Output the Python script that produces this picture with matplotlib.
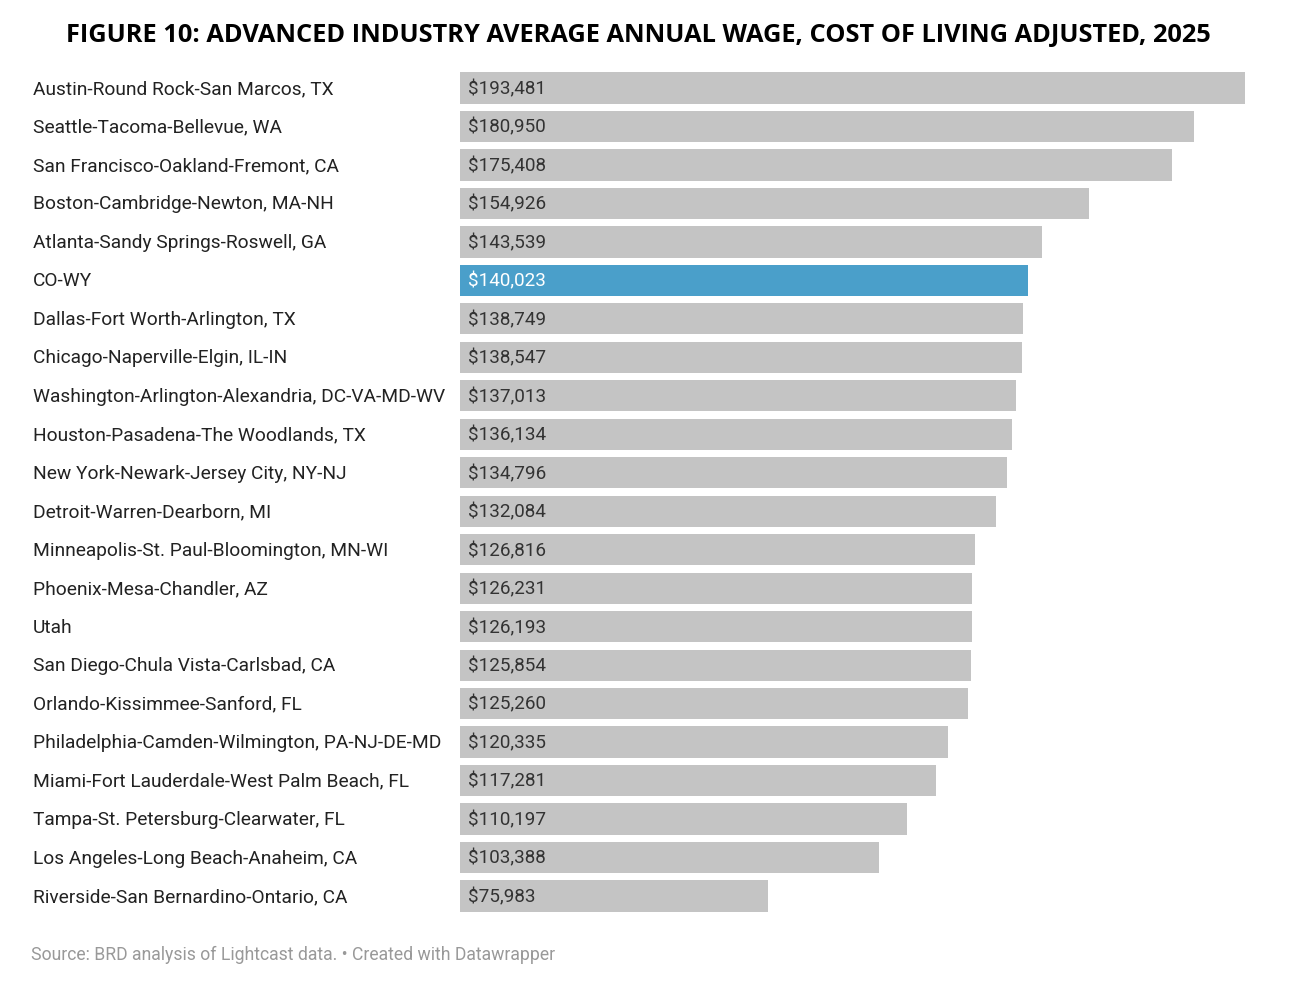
import matplotlib
matplotlib.use('Agg')
import matplotlib.pyplot as plt
import numpy as np

# data
regions = [
    'Austin-Round Rock-San Marcos, TX',
    'Seattle-Tacoma-Bellevue, WA',
    'San Francisco-Oakland-Fremont, CA',
    'Boston-Cambridge-Newton, MA-NH',
    'Atlanta-Sandy Springs-Roswell, GA',
    'CO-WY',
    'Dallas-Fort Worth-Arlington, TX',
    'Chicago-Naperville-Elgin, IL-IN',
    'Washington-Arlington-Alexandria, DC-VA-MD-WV',
    'Houston-Pasadena-The Woodlands, TX',
    'New York-Newark-Jersey City, NY-NJ',
    'Detroit-Warren-Dearborn, MI',
    'Minneapolis-St. Paul-Bloomington, MN-WI',
    'Phoenix-Mesa-Chandler, AZ',
    'Utah',
    'San Diego-Chula Vista-Carlsbad, CA',
    'Orlando-Kissimmee-Sanford, FL',
    'Philadelphia-Camden-Wilmington, PA-NJ-DE-MD',
    'Miami-Fort Lauderdale-West Palm Beach, FL',
    'Tampa-St. Petersburg-Clearwater, FL',
    'Los Angeles-Long Beach-Anaheim, CA',
    'Riverside-San Bernardino-Ontario, CA',
]
wages = [193481, 180950, 175408, 154926, 143539, 140023, 138749, 138547,
         137013, 136134, 134796, 132084, 126816, 126231, 126193, 125854,
         125260, 120335, 117281, 110197, 103388, 75983]
highlight = 'CO-WY'

W, H = 1300, 988
fig = plt.figure(figsize=(W / 100, H / 100), dpi=100)

# axes placed in pixel coords: bars start at x=460, max bar ends at x=1245
ax_left, ax_right = 460, 1245
ax_top, ax_bot = 68.8, 915.2
ax = fig.add_axes([ax_left / W, 1 - ax_bot / H, (ax_right - ax_left) / W, (ax_bot - ax_top) / H])

y = np.arange(len(regions))
colors = ['#4a9fca' if r == highlight else '#c4c4c4' for r in regions]
ax.barh(y, wages, height=0.81, color=colors)
ax.set_xlim(0, max(wages))
ax.set_ylim(len(regions) - 0.5, -0.5)
ax.axis('off')

for yi, r, v in zip(y, regions, wages):
    tc = 'white' if r == highlight else '#333333'
    ax.text(max(wages) * 0.0105, yi + 0.03, '${:,}'.format(v), va='center', ha='left',
            fontsize=13.6, family='Roboto', color=tc)
    fig.text(33 / W, 1 - (89 + yi * 38.48) / H, r, va='center', ha='left',
             fontsize=13.75, family='Roboto', color='#222222')

fig.text(638 / W, 1 - 35 / H,
         'FIGURE 10: ADVANCED INDUSTRY AVERAGE ANNUAL WAGE, COST OF LIVING ADJUSTED, 2025',
         ha='center', va='center', fontsize=18.3, family='Open Sans', weight='bold',
         color='black')
fig.text(31 / W, 1 - 955 / H,
         'Source: BRD analysis of Lightcast data. \u2022 Created with Datawrapper',
         ha='left', va='center', fontsize=12.7, family='Roboto', color='#999999')

fig.savefig('out.png', dpi=100, facecolor='white')
